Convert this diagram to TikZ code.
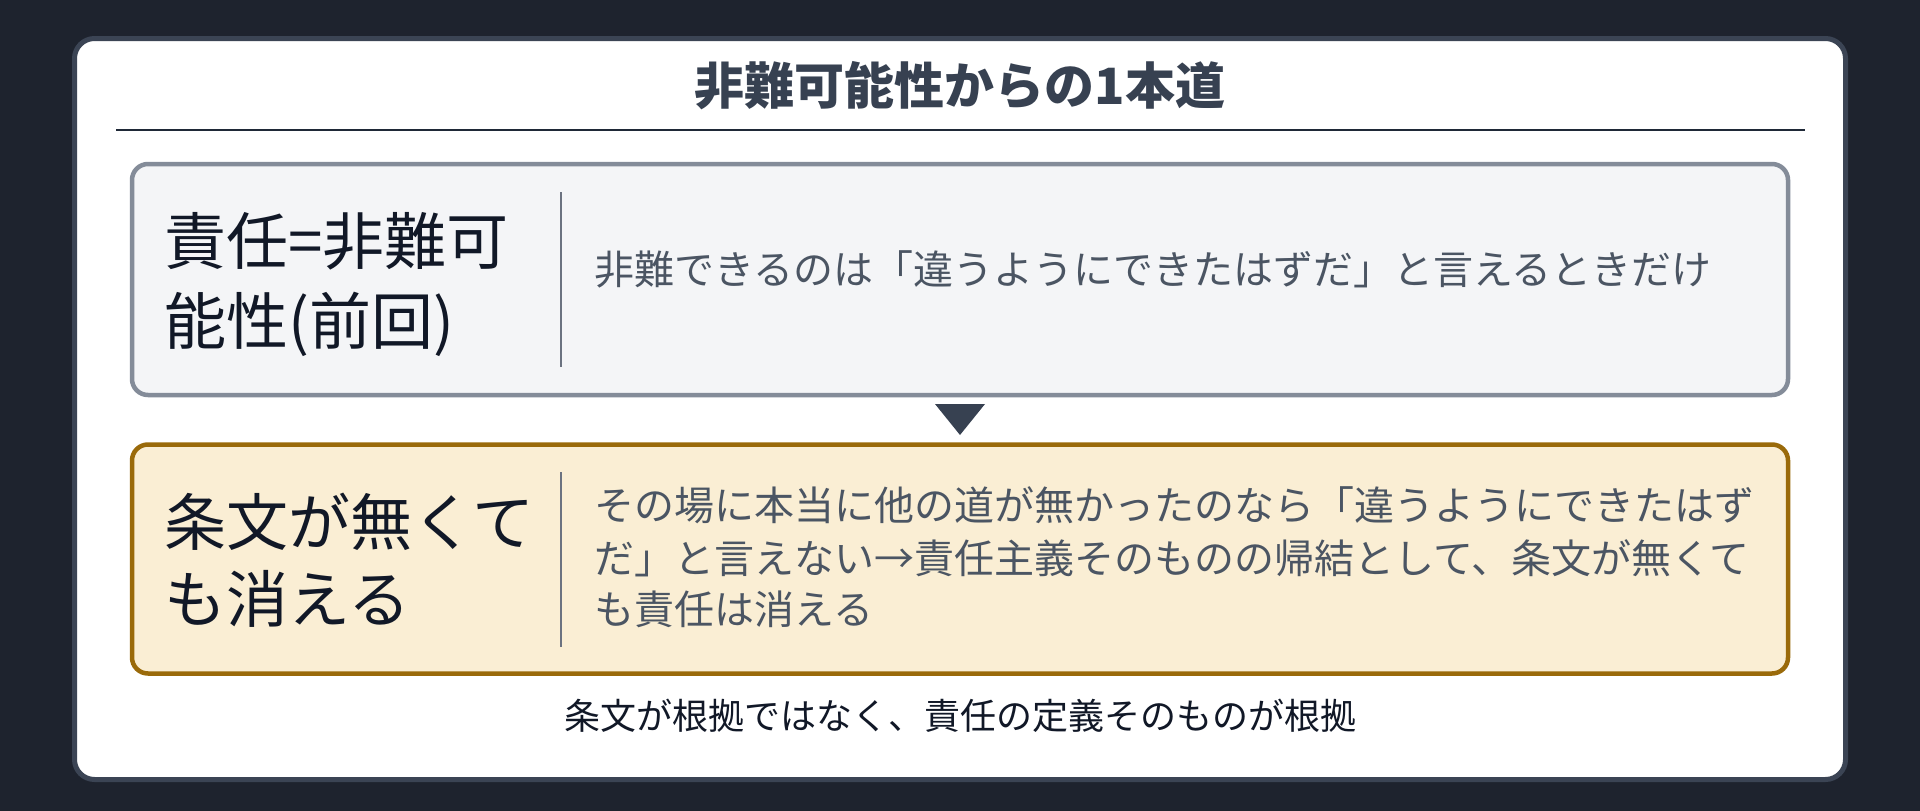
\documentclass[tikz,border=0pt]{standalone}
\usepackage{fontspec}
\setmainfont{Noto Sans CJK JP}
\definecolor{bgc}{HTML}{1E232E}
\definecolor{cardline}{HTML}{3B4454}
\definecolor{titlec}{HTML}{374151}
\definecolor{rulec}{HTML}{1F2937}
\definecolor{boxaline}{HTML}{848C99}
\definecolor{boxafill}{HTML}{F4F5F7}
\definecolor{boxbline}{HTML}{9A6A0A}
\definecolor{boxbfill}{HTML}{FAEED4}
\definecolor{bigc}{HTML}{111827}
\definecolor{bodyc}{HTML}{4B5563}
\definecolor{divc}{HTML}{6B7280}
\tikzset{
  card/.style={draw=cardline, line width=5pt, fill=white, rounded corners=20pt},
  stepbox/.style={line width=4.5pt, rounded corners=16pt, minimum width=1656pt, inner sep=0pt},
  bigtext/.style={anchor=base west, inner sep=0pt, text=bigc, font=\fontsize{62}{80}\selectfont},
  bodytext/.style={anchor=base west, inner sep=0pt, text=bodyc, font=\fontsize{40}{52}\selectfont},
  divider/.style={draw=divc, line width=2pt},
}
\begin{document}
\begin{tikzpicture}[x=1pt,y=-1pt]
\fill[bgc] (0,0) rectangle (1920,811);
\useasboundingbox (0,0) rectangle (1920,811);
\draw[card] (74.5,38.5) rectangle (1845.5,779.5);
\node[anchor=base, inner sep=0pt, text=titlec, font=\fontsize{50}{60}\selectfont\bfseries] (title) at (960,104) {非難可能性からの1本道};
\coordinate (rl) at (116,130);
\coordinate (rr) at (1805,130);
\draw[draw=rulec, line width=2.5pt] (rl) -- (rr);
% box 1
\node[stepbox, draw=boxaline, fill=boxafill, minimum height=231pt] (boxa) at (960,279.5) {};
\coordinate (da1) at (561,192);
\coordinate (da2) at (561,367);
\draw[divider] (da1) -- (da2);
\node[bigtext] (ta1) at (164,264) {責任=非難可};
\node[bigtext] (ta2) at (164,344) {能性(前回)};
\node[bodytext] (ta3) at (594,284) {非難できるのは「違うようにできたはずだ」と言えるときだけ};
% arrow
\coordinate (tria) at (935,404);
\coordinate (trib) at (985,404);
\coordinate (tric) at (960,435);
\fill[titlec] (tria) -- (trib) -- (tric) -- cycle;
% box 2
\node[stepbox, draw=boxbline, fill=boxbfill, minimum height=229pt] (boxb) at (960,559) {};
\coordinate (db1) at (561,472);
\coordinate (db2) at (561,647);
\draw[divider] (db1) -- (db2);
\node[bigtext] (tb1) at (164,545) {条文が無くて};
\node[bigtext] (tb2) at (164,622) {も消える};
\node[bodytext] (tb3) at (594,520) {その場に本当に他の道が無かったのなら「違うようにできたはず};
\node[bodytext] (tb4) at (594,573) {だ」と言えない→責任主義そのものの帰結として、条文が無くて};
\node[bodytext] (tb5) at (594,624) {も責任は消える};
% caption
\node[anchor=base, inner sep=0pt, text=bigc, font=\fontsize{36}{44}\selectfont] (cap) at (960,729) {条文が根拠ではなく、責任の定義そのものが根拠};
\end{tikzpicture}
\end{document}
